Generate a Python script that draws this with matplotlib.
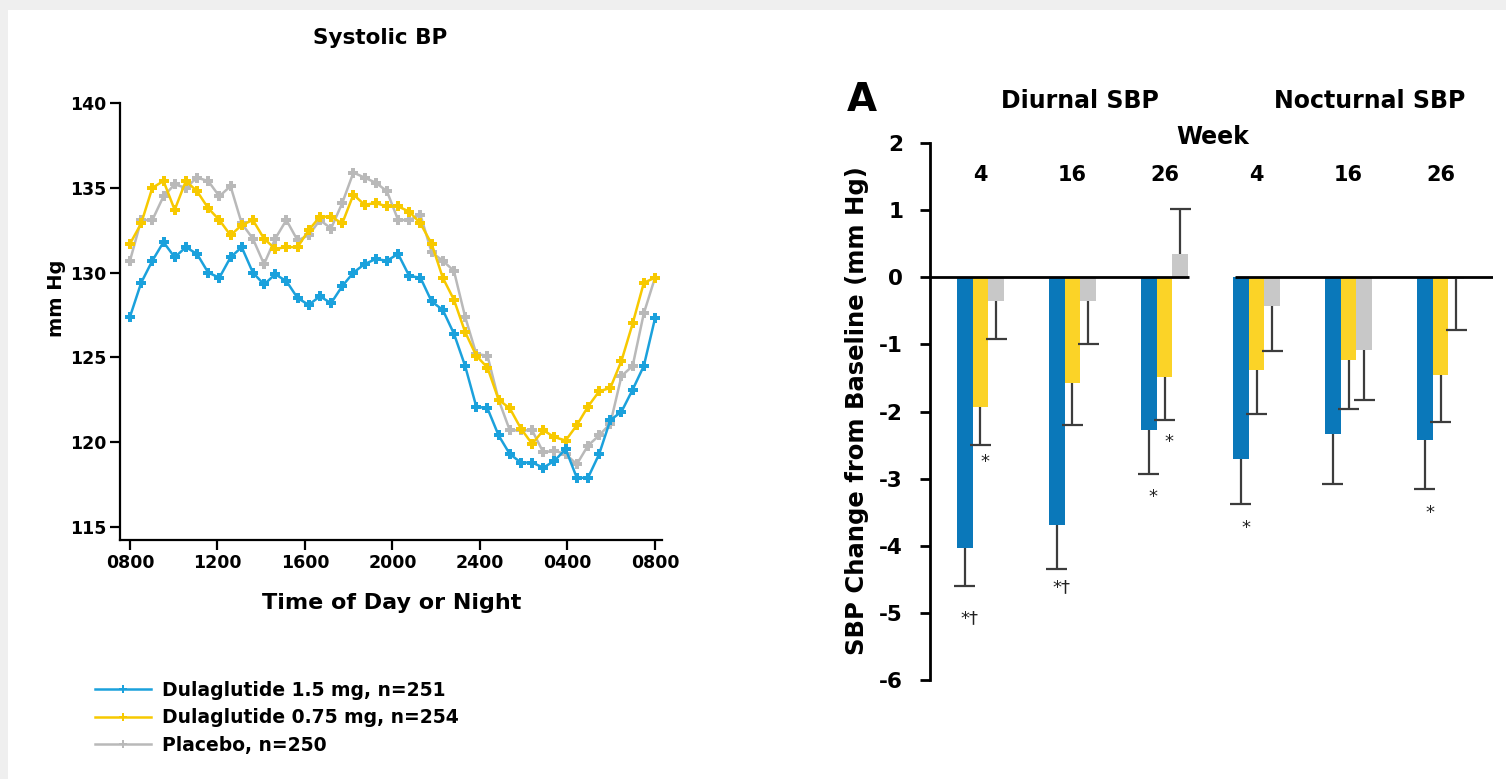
import numpy as np
import matplotlib
matplotlib.use("Agg")
from matplotlib import pyplot as plt
from matplotlib.patches import Rectangle
from matplotlib.lines import Line2D

plt.rcParams['font.family'] = ['DejaVu Sans']
plt.rcParams['font.weight'] = 'bold'
plt.rcParams['axes.unicode_minus'] = False

# ---- 24-h ambulatory systolic BP (mm Hg), 48 readings from 0800 to 0800
hours = np.linspace(0, 24, 48)
sbp_15 = [127.4, 129.4, 130.7, 131.8, 130.9, 131.5, 131.1, 130.0, 129.7, 130.9, 131.5, 130.0,
          129.3, 129.9, 129.5, 128.5, 128.1, 128.6, 128.2, 129.2, 130.0, 130.5, 130.8, 130.7,
          131.1, 129.8, 129.7, 128.3, 127.8, 126.4, 124.5, 122.1, 122.0, 120.4, 119.3, 118.8,
          118.8, 118.5, 118.9, 119.6, 117.9, 117.9, 119.3, 121.3, 121.8, 123.1, 124.5, 127.3]
sbp_075 = [131.7, 132.9, 135.0, 135.4, 133.7, 135.4, 134.8, 133.8, 133.1, 132.2, 132.8, 133.1,
           132.0, 131.4, 131.5, 131.5, 132.5, 133.3, 133.3, 132.9, 134.6, 134.0, 134.1, 133.9,
           133.9, 133.6, 132.9, 131.7, 129.7, 128.4, 126.5, 125.1, 124.4, 122.5, 122.0, 120.8,
           119.9, 120.7, 120.3, 120.1, 121.0, 122.1, 123.0, 123.2, 124.8, 127.0, 129.4, 129.7]
sbp_pbo = [130.7, 133.1, 133.1, 134.5, 135.2, 135.0, 135.6, 135.4, 134.5, 135.1, 132.9, 132.0,
           130.5, 132.0, 133.1, 131.9, 132.2, 133.1, 132.6, 134.1, 135.9, 135.6, 135.3, 134.8,
           133.1, 133.1, 133.4, 131.2, 130.7, 130.1, 127.4, 125.2, 125.1, 122.5, 120.7, 120.7,
           120.7, 119.4, 119.5, 119.3, 118.7, 119.8, 120.4, 121.1, 123.9, 124.5, 127.6, 129.7]
series_labels = ["Dulaglutide 1.5 mg, n=251", "Dulaglutide 0.75 mg, n=254", "Placebo, n=250"]
time_ticks = [0, 4, 8, 12, 16, 20, 24]
time_labels = ["0800", "1200", "1600", "2000", "2400", "0400", "0800"]

# ---- change from baseline (mm Hg): diurnal wk 4/16/26, nocturnal wk 4/16/26
week_labels = ["4", "16", "26", "4", "16", "26"]
chg_15 = [-4.03, -3.69, -2.27, -2.71, -2.33, -2.42]
chg_075 = [-1.93, -1.58, -1.49, -1.38, -1.24, -1.45]
chg_pbo = [-0.35, -0.36, 0.35, -0.43, -1.08, -0.02]
se_15 = [0.57, 0.65, 0.66, 0.67, 0.75, 0.74]
se_075 = [0.57, 0.62, 0.64, 0.66, 0.73, 0.71]
se_pbo = [0.57, 0.63, 0.67, 0.67, 0.75, 0.77]
# significance marks: (group, series, text, y position)
marks = [(0, 0, "*\u2020", -5.08), (0, 1, "*", -2.75), (1, 0, "*\u2020", -4.62),
         (2, 0, "*", -3.28), (2, 1, "*", -2.45), (3, 0, "*", -3.74), (5, 0, "*", -3.51)]

line_colors = ["#1ba1dc", "#f7c900", "#b9b9b9"]
bar_colors = ["#0a78ba", "#fbd327", "#c8c8c8"]

W, H = 1506, 779
fig = plt.figure(figsize=(W / 100, H / 100), dpi=100, facecolor="#efefef")
fig.patches.append(Rectangle((8 / W, 0), 1, 1 - 10 / H, transform=fig.transFigure,
                             facecolor="white", edgecolor="none", zorder=-10))


def fx(x):
    return x / W


def fy(y):
    return 1 - y / H


# ---------------- left: line chart ----------------
ax1 = fig.add_axes([fx(120), fy(540), fx(662 - 120), (540 - 103) / H])
ax1.patch.set_alpha(0)
for vals, c in zip([sbp_15, sbp_075, sbp_pbo][::-1], line_colors[::-1]):
    ax1.plot(hours, vals, color=c, lw=1.8, marker="P", ms=7, mew=0)
ax1.set_xlim(-0.457, 24.32)
ax1.set_ylim(115 - 13 / 16.96, 140)
ax1.set_yticks([115, 120, 125, 130, 135, 140])
ax1.set_xticks(time_ticks)
ax1.set_xticklabels(time_labels)
for s in ["top", "right"]:
    ax1.spines[s].set_visible(False)
for s in ["left", "bottom"]:
    ax1.spines[s].set_linewidth(1.6)
ax1.tick_params(direction="out", length=7, width=1.6, labelsize=12.5, pad=3)
fig.text(fx(380), fy(38), "Systolic BP", ha="center", va="center", fontsize=15.5, fontweight="bold")
fig.text(fx(56), fy(298), "mm Hg", ha="center", va="center", rotation=90, fontsize=14, fontweight="bold")
fig.text(fx(392), fy(603), "Time of Day or Night", ha="center", va="center", fontsize=16, fontweight="bold")

handles = [Line2D([0], [0], color=c, lw=1.8, marker="P", ms=6, mew=0) for c in line_colors]
fig.legend(handles, series_labels, loc="upper left", bbox_to_anchor=(fx(95), fy(681)),
           frameon=False, fontsize=13.5, handlelength=3.0, handletextpad=0.55,
           labelspacing=0.45, borderpad=0, borderaxespad=0)

# ---------------- right: bar chart ----------------
ax2 = fig.add_axes([fx(929.5), fy(680), fx(1493 - 929.5), (680 - 143) / H])
ax2.patch.set_alpha(0)
bw = 0.17
groups = np.arange(len(week_labels))
for k, (vals, errs) in enumerate(zip([chg_15, chg_075, chg_pbo], [se_15, se_075, se_pbo])):
    xs = groups + (k - 1) * bw
    ax2.bar(xs, vals, width=bw, color=bar_colors[k], edgecolor="none", zorder=2)
    for x, v, e in zip(xs, vals, errs):
        end = v - e if v < 0 else v + e
        ax2.vlines(x, v, end, color="#3c3c3c", lw=1.6, zorder=3)
        ax2.hlines(end, x - 0.115, x + 0.115, color="#3c3c3c", lw=1.6, zorder=3)

ax2.hlines(0, -0.554, 2.266, color="black", lw=2, zorder=4)
ax2.hlines(0, 2.767, 5.57, color="black", lw=2, zorder=4)
for g, k, txt, y in marks:
    ax2.text(g + (k - 1) * bw + 0.05, y, txt, ha="center", va="center", fontsize=13,
             fontweight="normal", color="#222222")
for g, lab in zip(groups, week_labels):
    ax2.text(g, 1.53, lab, ha="center", va="center", fontsize=15, fontweight="bold")

ax2.set_xlim(-0.554, 5.57)
ax2.set_ylim(-6, 2)
ax2.set_yticks(range(-6, 3))
ax2.set_xticks([])
for s in ["top", "right", "bottom"]:
    ax2.spines[s].set_visible(False)
ax2.spines["left"].set_linewidth(2)
ax2.tick_params(axis="y", direction="out", length=7, width=2, labelsize=15.5, pad=12)

fig.text(fx(862), fy(100), "A", ha="center", va="center", fontsize=28, fontweight="bold")
fig.text(fx(1080), fy(101), "Diurnal SBP", ha="center", va="center", fontsize=17, fontweight="bold")
fig.text(fx(1370), fy(101), "Nocturnal SBP", ha="center", va="center", fontsize=17, fontweight="bold")
fig.text(fx(1213), fy(137), "Week", ha="center", va="center", fontsize=17, fontweight="bold")
fig.text(fx(857), fy(411), "SBP Change from Baseline (mm Hg)", ha="center", va="center",
         rotation=90, fontsize=17.5, fontweight="bold")

fig.savefig("out.png", dpi=100, facecolor=fig.get_facecolor())
